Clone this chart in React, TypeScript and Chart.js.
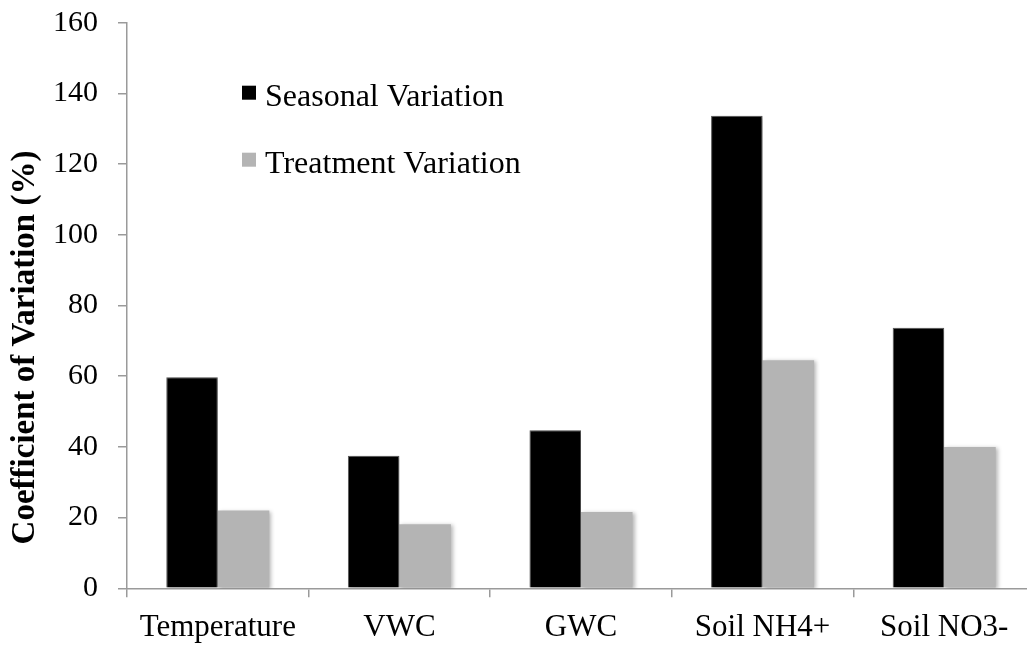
import React, { useEffect, useRef } from "react";
import { Chart, registerables } from "chart.js";

Chart.register(...registerables);

const categories = ["Temperature", "VWC", "GWC", "Soil NH4+", "Soil NO3-"];
const seasonalVariation = [59.7, 37.5, 44.7, 133.7, 73.7];
const treatmentVariation = [22.0, 18.1, 21.6, 64.5, 40.0];
const seriesNames = ["Seasonal Variation", "Treatment Variation"];
const yTitle = "Coefficient of Variation (%)";

const FONT = "'Liberation Serif', 'Times New Roman', Times, serif";
const AXIS_COLOR = "#9a9a9a";

const shadowPlugin = {
  id: "barShadow",
  beforeDatasetsDraw(chart: any) {
    const ctx = chart.ctx;
    ctx.save();
    ctx.shadowColor = "rgba(0,0,0,0.28)";
    ctx.shadowBlur = 4;
    ctx.shadowOffsetX = 2;
    ctx.shadowOffsetY = 1;
  },
  afterDatasetsDraw(chart: any) {
    chart.ctx.restore();
  },
};

const legendPlugin = {
  id: "insideLegend",
  afterDraw(chart: any) {
    const ctx = chart.ctx;
    const { left, top } = chart.chartArea;
    ctx.save();
    chart.data.datasets.forEach((ds: any, i: number) => {
      const baseY = top + 83 + i * 67;
      ctx.fillStyle = ds.backgroundColor;
      ctx.fillRect(left + 115, baseY - 20, 14, 14);
      ctx.fillStyle = "#000";
      ctx.font = `32px ${FONT}`;
      ctx.textAlign = "left";
      ctx.textBaseline = "alphabetic";
      ctx.fillText(ds.label, left + 138, baseY);
    });
    ctx.restore();
  },
};

const yTitlePlugin = {
  id: "yTitleCustom",
  afterDraw(chart: any) {
    const ctx = chart.ctx;
    const { top, bottom } = chart.chartArea;
    ctx.save();
    ctx.translate(25, (top + bottom) / 2 + 42);
    ctx.rotate(-Math.PI / 2);
    ctx.fillStyle = "#000";
    ctx.font = `bold 33px ${FONT}`;
    ctx.textAlign = "center";
    ctx.textBaseline = "middle";
    ctx.fillText(yTitle, 0, 0);
    ctx.restore();
  },
};

export default function App() {
  const canvasRef = useRef<HTMLCanvasElement | null>(null);

  useEffect(() => {
    document.body.style.margin = "0";
    document.body.style.overflow = "hidden";
    const canvas = canvasRef.current;
    if (!canvas) return;
    const chart = new Chart(canvas, {
      type: "bar",
      data: {
        labels: categories,
        datasets: [
          {
            label: seriesNames[0],
            data: seasonalVariation,
            backgroundColor: "#000000",
            borderColor: "#5a5a5a",
            borderWidth: 1,
          },
          {
            label: seriesNames[1],
            data: treatmentVariation,
            backgroundColor: "#b4b4b4",
            borderColor: "#b4b4b4",
            borderWidth: 0,
          },
        ],
      },
      options: {
        responsive: false,
        animation: false,
        devicePixelRatio: 1,
        layout: { padding: { top: 22.7, left: 0, right: 0, bottom: 0 } },
        datasets: {
          bar: { categoryPercentage: 0.5675, barPercentage: 1 },
        },
        plugins: {
          legend: { display: false },
          tooltip: { enabled: false },
          title: { display: false },
        },
        scales: {
          x: {
            offset: true,
            grid: {
              offset: true,
              drawOnChartArea: false,
              drawTicks: true,
              tickLength: 9,
              color: AXIS_COLOR,
              lineWidth: 1.5,
            },
            border: { display: true, color: AXIS_COLOR, width: 1.5 },
            ticks: {
              color: "#000",
              font: { family: FONT, size: 31 },
              padding: 12,
              maxRotation: 0,
              autoSkip: false,
            },
            afterFit(scale: any) {
              scale.height = 59.7;
            },
          },
          y: {
            min: 0,
            max: 160,
            grid: {
              drawOnChartArea: false,
              drawTicks: true,
              tickLength: 9,
              color: AXIS_COLOR,
              lineWidth: 1.5,
            },
            border: { display: true, color: AXIS_COLOR, width: 1.5 },
            ticks: {
              stepSize: 20,
              color: "#000",
              font: { family: FONT, size: 30 },
              padding: 20,
            },
            afterFit(scale: any) {
              scale.width = 127;
              scale.paddingTop = 0;
              scale.paddingBottom = 0;
            },
          },
        },
      },
      plugins: [shadowPlugin, legendPlugin, yTitlePlugin],
    });
    return () => chart.destroy();
  }, []);

  return (
    <div style={{ width: 1027, height: 648, overflow: "hidden", position: "relative", background: "#fff" }}>
      <canvas ref={canvasRef} width={1035} height={648} style={{ display: "block", width: 1035, height: 648 }} />
    </div>
  );
}
